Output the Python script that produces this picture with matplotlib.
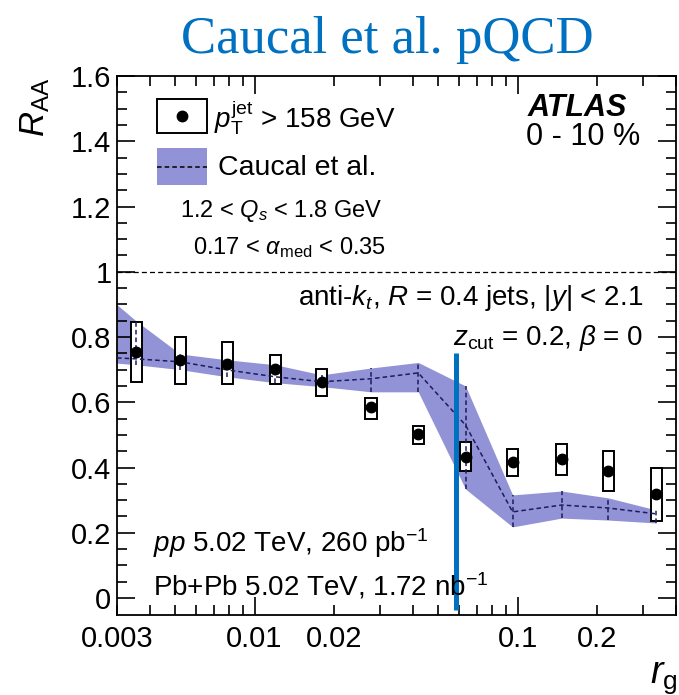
import matplotlib
matplotlib.use("Agg")
import matplotlib.pyplot as plt
from matplotlib.patches import Rectangle

# ATLAS data, 0-10 %, pT jet > 158 GeV
rg = [0.00355, 0.00522, 0.00789, 0.0120, 0.0180, 0.0277,
      0.0419, 0.0634, 0.0957, 0.147, 0.221, 0.336]
raa = [0.755, 0.730, 0.718, 0.702, 0.662, 0.586,
       0.503, 0.433, 0.417, 0.426, 0.390, 0.319]
sys_lo = [0.663, 0.656, 0.656, 0.656, 0.618, 0.549,
          0.472, 0.390, 0.374, 0.377, 0.328, 0.236]
sys_hi = [0.846, 0.800, 0.785, 0.745, 0.702, 0.613,
          0.528, 0.479, 0.457, 0.472, 0.451, 0.399]

# Caucal et al. band (first point sits on the left edge of the frame)
th_rg = [0.003] + rg
th_mid = [0.736, 0.733, 0.724, 0.699, 0.678, 0.663, 0.672,
          0.690, 0.530, 0.264, 0.285, 0.276, 0.258]
th_lo = [0.720, 0.715, 0.700, 0.678, 0.660, 0.648, 0.632,
         0.632, 0.334, 0.218, 0.245, 0.239, 0.230]
th_hi = [0.899, 0.849, 0.748, 0.730, 0.715, 0.684, 0.705,
         0.722, 0.650, 0.316, 0.328, 0.307, 0.270]

# blue marker line drawn over the plot
cut_rg = [0.0585, 0.0585]
cut_raa = [-0.037, 0.752]

yticks = [0, 0.2, 0.4, 0.6, 0.8, 1.0, 1.2, 1.4, 1.6]
ylabels = ["0", "0.2", "0.4", "0.6", "0.8", "1", "1.2", "1.4", "1.6"]
xlabels = {0.003: "0.003", 0.02: "0.02", 0.2: "0.2"}

W, H = 679, 695
L, R, T, B = 117, 676, 76, 615
BAND = "#9292d6"
NAVY = "#1c1c5c"
BLUE = "#0070c0"


def fx(px):
    return (px - L) / (R - L)


def fy(py):
    return (B - py) / (B - T)


def main():
    plt.rcParams["font.family"] = ["Liberation Sans", "DejaVu Sans"]
    plt.rcParams["mathtext.fontset"] = "custom"
    plt.rcParams["mathtext.rm"] = "Liberation Sans"
    plt.rcParams["mathtext.it"] = "Liberation Sans:italic"
    plt.rcParams["mathtext.bf"] = "Liberation Sans:bold"

    fig = plt.figure(figsize=(W / 100, H / 100), dpi=100)
    ax = fig.add_axes([L / W, (H - B) / H, (R - L) / W, (B - T) / H])
    ax.set_xscale("log")
    ax.set_xlim(0.003, 0.40)
    ax.set_ylim(-0.052, 1.6)

    # theory band + dashed central line
    ax.fill_between(th_rg, th_lo, th_hi, color=BAND, lw=0, zorder=1)

    # data: white sys boxes
    w = 1.05
    for x, lo, hi in zip(rg, sys_lo, sys_hi):
        ax.add_patch(Rectangle((x / w, lo), x * w - x / w, hi - lo,
                               facecolor="white", edgecolor="black",
                               lw=1.4, zorder=2))

    ax.plot(th_rg, th_mid, color=NAVY, lw=1.1, ls=(0, (3, 2)), zorder=3)
    ax.vlines(th_rg[1:], th_lo[1:], th_hi[1:], color=NAVY, lw=1.1,
              ls=(0, (3, 2)), zorder=3)
    ax.plot(rg, raa, "o", color="black", ms=7.5, zorder=4)

    ax.axhline(1.0, color="black", lw=0.9, ls=(0, (4, 2.5)), zorder=2)

    ax.plot(cut_rg, cut_raa, color=BLUE, lw=3.6, clip_on=False, zorder=6,
            solid_capstyle="butt")

    # ticks
    ax.set_yticks(yticks, ylabels)
    ax.set_yticks([v / 100 for v in range(5, 160, 5) if v % 20], minor=True)
    ax.set_xticks([0.01, 0.1], ["0.01", "0.1"])
    minors = [k * 0.001 for k in range(3, 10)] + [k * 0.01 for k in range(2, 10)] \
        + [0.2, 0.3, 0.4]
    ax.set_xticks(minors, [xlabels.get(round(m, 4), "") for m in minors],
                  minor=True)
    ax.tick_params(which="both", direction="in", top=True, right=True,
                   width=1.2, labelsize=21)
    ax.tick_params(which="major", length=13)
    ax.tick_params(which="minor", length=7)
    ax.tick_params(axis="y", which="both", pad=4)
    ax.tick_params(axis="x", which="both", pad=7)
    for s in ax.spines.values():
        s.set_linewidth(1.3)

    # legend drawn by hand
    ax.add_patch(Rectangle((fx(157), fy(133)), fx(207) - fx(157),
                           fy(99) - fy(133), transform=ax.transAxes,
                           facecolor="white", edgecolor="black", lw=1.4))
    ax.plot([fx(182)], [fy(116)], "o", color="black", ms=7.5,
            transform=ax.transAxes)
    ax.add_patch(Rectangle((fx(157), fy(185)), fx(207) - fx(157),
                           fy(148) - fy(185), transform=ax.transAxes,
                           facecolor=BAND, lw=0))
    ax.plot([fx(157), fx(207)], [fy(167), fy(167)], color="black", lw=1.1,
            ls=(0, (3, 2)), transform=ax.transAxes)

    def txt(px, py, s, size, ha="left", **kw):
        fig.text(px / W, 1 - py / H, s, fontsize=size, ha=ha, va="center", **kw)

    txt(214, 118, r"$p_{\mathrm{T}}^{\mathrm{jet}}$ > 158 GeV", 20)
    txt(218, 168, "Caucal et al.", 20.5)
    txt(180, 211, r"1.2 < $Q_s$ < 1.8 GeV", 17)
    txt(193, 248, r"0.17 < $\alpha_{\mathrm{med}}$ < 0.35", 17)
    txt(627, 108, "ATLAS", 22, ha="right", fontweight="bold",
        fontstyle="italic")
    txt(640, 137, "0 - 10 %", 22, ha="right")
    txt(643, 298, r"anti-$k_t$, $R$ = 0.4 jets, |$y$| < 2.1", 20, ha="right")
    txt(643, 338, r"$z_{\mathrm{cut}}$ = 0.2, $\beta$ = 0", 20, ha="right")
    txt(153, 543, r"$pp$ 5.02 TeV, 260 pb$^{-1}$", 20)
    txt(153, 586, r"Pb+Pb 5.02 TeV, 1.72 nb$^{-1}$", 20)

    # axis titles
    fig.text(35 / W, 1 - 78 / H, r"$R_{\mathrm{AA}}$", fontsize=25,
             rotation=90, ha="center", va="top")
    fig.text(677 / W, 1 - 683 / H, r"$r_{\mathrm{g}}$", fontsize=27,
             ha="right", va="baseline")

    fig.text(387 / W, 1 - 53 / H, "Caucal et al. pQCD", fontsize=38,
             family="Liberation Serif", color=BLUE, ha="center",
             va="baseline")

    fig.savefig("out.png", dpi=100)


if __name__ == "__main__":
    main()
